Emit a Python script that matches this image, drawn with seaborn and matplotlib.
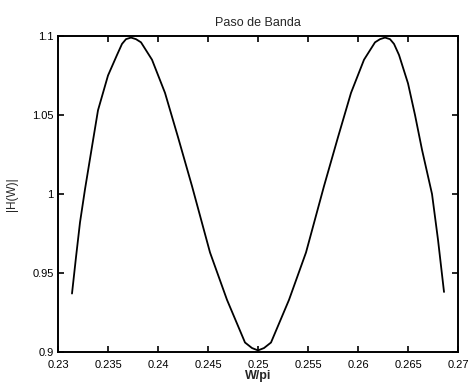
import matplotlib
matplotlib.use("Agg")
import matplotlib.pyplot as plt
import seaborn as sns
import pandas as pd

# Normalised frequency (W/pi) and magnitude response |H(W)| of the band-pass filter
w_over_pi = [0.2314, 0.2318, 0.2322, 0.2327, 0.2334, 0.2340, 0.2350, 0.2359,
             0.2364, 0.2368, 0.2373, 0.2378, 0.2383, 0.2394, 0.2407, 0.2420,
             0.2434, 0.2452, 0.2469, 0.2487, 0.2494, 0.2500, 0.2506, 0.2513,
             0.2531, 0.2548, 0.2566, 0.2580, 0.2593, 0.2606, 0.2617, 0.2622,
             0.2627, 0.2632, 0.2636, 0.2641, 0.2650, 0.2657, 0.2664, 0.2674,
             0.2680, 0.2686]
magnitude = [0.937, 0.960, 0.982, 1.003, 1.030, 1.053, 1.075, 1.088,
             1.095, 1.098, 1.099, 1.098, 1.096, 1.085, 1.064, 1.036,
             1.005, 0.963, 0.933, 0.906, 0.9025, 0.901, 0.9025, 0.906,
             0.933, 0.963, 1.005, 1.036, 1.064, 1.085, 1.096, 1.098,
             1.099, 1.098, 1.095, 1.088, 1.070, 1.050, 1.028, 1.000,
             0.971, 0.938]

x_ticks = [0.23, 0.235, 0.24, 0.245, 0.25, 0.255, 0.26, 0.265, 0.27]
x_tick_labels = ["0.23", "0.235", "0.24", "0.245", "0.25", "0.255", "0.26", "0.265", "0.27"]
y_ticks = [0.9, 0.95, 1.0, 1.05, 1.1]
y_tick_labels = ["0.9", "0.95", "1", "1.05", "1.1"]

sns.set_style("ticks")
plt.rcParams["font.family"] = ["Liberation Sans", "DejaVu Sans"]

df = pd.DataFrame({"W/pi": w_over_pi, "|H(W)|": magnitude})

fig = plt.figure(figsize=(4.70, 3.88), dpi=100)
ax = fig.add_axes([0.1234, 0.0928, 0.8511, 0.8144])

sns.lineplot(data=df, x="W/pi", y="|H(W)|", ax=ax, color="black",
             linewidth=1.3, sort=False)

ax.set_xlim(0.23, 0.27)
ax.set_ylim(0.9, 1.1)
ax.set_xticks(x_ticks)
ax.set_xticklabels(x_tick_labels)
ax.set_yticks(y_ticks)
ax.set_yticklabels(y_tick_labels)

for side in ["top", "right", "bottom", "left"]:
    ax.spines[side].set_visible(True)
    ax.spines[side].set_linewidth(1.4)
    ax.spines[side].set_color("black")

ax.tick_params(direction="in", length=4, width=1.2, top=True, right=True,
               labelsize=8, colors="black")
ax.tick_params(axis="x", pad=6)
ax.tick_params(axis="y", pad=3)

ax.set_title("Paso de Banda", fontsize=9, fontweight="medium", pad=7)
ax.set_xlabel("W/pi", fontsize=9, fontweight="bold", labelpad=0)
ax.set_ylabel("|H(W)|", fontsize=8.5, labelpad=10)

fig.savefig("out.png", dpi=100, facecolor="white")
